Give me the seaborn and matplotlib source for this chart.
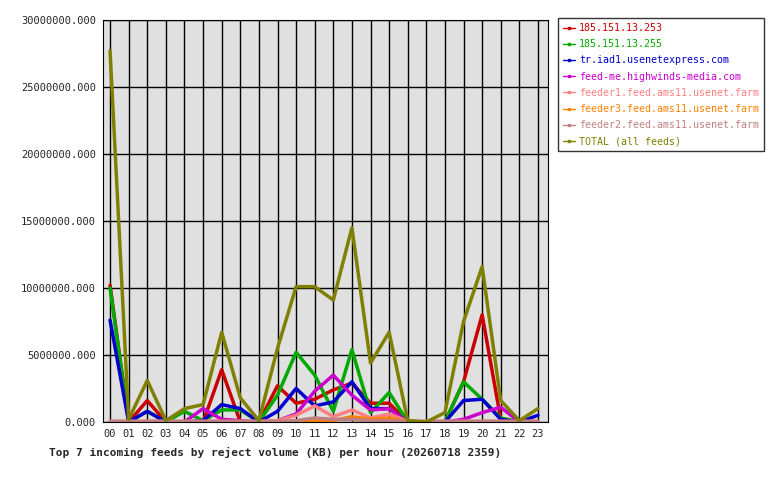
import matplotlib
matplotlib.use("Agg")
import matplotlib.pyplot as plt
import seaborn as sns
import pandas as pd

hours = ["00","01","02","03","04","05","06","07","08","09","10","11","12","13","14","15","16","17","18","19","20","21","22","23"]
feeds = ["185.151.13.253","185.151.13.255","tr.iad1.usenetexpress.com","feed-me.highwinds-media.com",
         "feeder1.feed.ams11.usenet.farm","feeder3.feed.ams11.usenet.farm","feeder2.feed.ams11.usenet.farm","TOTAL (all feeds)"]
colors = ["#cc0000","#00aa00","#0000cc","#cc00cc","#ff8080","#ff8000","#c08080","#808000"]
M = 1e6
red     = [10.2,0,1.6,0,0,0,3.9,0,0,2.7,1.4,1.7,2.4,2.9,1.4,1.4,0,0,0,3.0,8.0,0.2,0,0]
green   = [10.0,0,0.8,0,0.8,0.1,0.9,0.9,0,2.0,5.2,3.5,0.8,5.4,0.7,2.2,0,0,0,3.0,1.7,0.3,0,0]
blue    = [7.6,0,0.8,0,0,0.1,1.3,1.0,0,0.8,2.5,1.2,1.5,3.0,1.0,1.0,0,0,0,1.6,1.7,0.2,0,0.5]
magenta = [0,0,0,0,0,1.0,0.2,0.1,0,0.1,0.6,2.3,3.5,2.0,0.9,1.0,0,0,0,0.2,0.7,1.1,0,0]
feeder1 = [0.05,0.05,0.05,0.05,0.05,0.05,0.05,0.05,0.05,0.1,0.5,1.2,0.4,0.9,0.3,0.6,0.05,0.05,0.05,0.05,0.05,0.05,0.05,0.05]
feeder3 = [0,0,0,0,0,0,0,0,0,0,0,0.1,0.1,0.4,0.2,0.3,0,0,0,0,0,0,0,0]
feeder2 = [0.05,0.05,0.05,0.05,0.05,0.05,0.05,0.05,0.05,0.05,0.1,0.3,0.2,0.2,0.1,0.1,0.05,0.05,0.05,0.05,0.05,0.05,0.05,0.05]
total   = [27.7,0.2,3.1,0.1,1.0,1.3,6.7,1.8,0.1,5.5,10.1,10.1,9.1,14.5,4.4,6.7,0.1,0,0.7,7.5,11.6,1.6,0.1,1.0]
series = [red,green,blue,magenta,feeder1,feeder3,feeder2,total]

rows = []
for f, vals in zip(feeds, series):
    for i, v in enumerate(vals):
        rows.append({"hour": i, "value": v*M, "feed": f})
df = pd.DataFrame(rows)

sns.set_style("white")
plt.rcParams['font.family'] = ['DejaVu Sans Mono']
fig = plt.figure(figsize=(7.8,4.8), dpi=100)
ax = fig.add_axes([103/780, 1-422/480, 445/780, 402/480])
ax.set_facecolor("#e0e0e0")
sns.lineplot(data=df, x="hour", y="value", hue="feed", hue_order=feeds, palette=colors,
             linewidth=2.5, ax=ax, legend=False)
ax.set_xlim(-0.38, 23.54)
ax.set_ylim(0, 30e6)
ax.set_xticks(range(24))
ax.set_xticklabels(hours, fontsize=7.5)
yt = [0,5e6,10e6,15e6,20e6,25e6,30e6]
ax.set_yticks(yt)
ax.set_yticklabels([f"{v:.3f}" for v in yt], fontsize=7.5)
ax.grid(True, color="black", linewidth=1)
ax.set_axisbelow(True)
for s in ax.spines.values():
    s.set_color("black")
ax.tick_params(length=3, color="black", pad=2)
ax.set_ylabel("")
ax.set_xlabel("")
fig.text(49/780, 1-452/480, "Top 7 incoming feeds by reject volume (KB) per hour (20260718 2359)",
         fontsize=8, fontweight="bold", ha="left", va="center")
handles = [plt.Line2D([],[],color=c,lw=1,marker="s",markersize=2) for c in colors]
leg = fig.legend(handles, feeds, loc="upper left", bbox_to_anchor=(558/780, 1-18/480),
                 fontsize=7.2, frameon=True, fancybox=False, edgecolor="black",
                 handlelength=1.2, handletextpad=0.4, labelspacing=0.62, borderpad=0.5, borderaxespad=0)
for t, c in zip(leg.get_texts(), colors):
    t.set_color(c)
fig.savefig("out.png", dpi=100)
